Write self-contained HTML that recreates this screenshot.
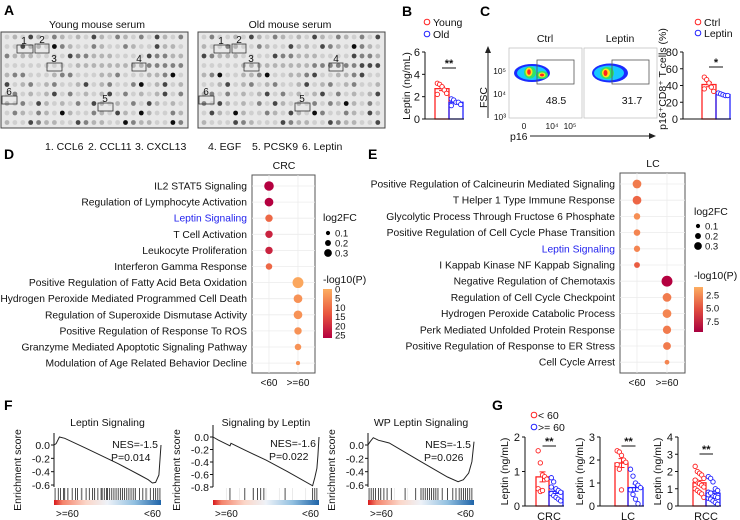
<!DOCTYPE html>
<html><head><meta charset="utf-8"><style>
html,body{margin:0;padding:0;background:#fff}
svg{display:block;font-family:"Liberation Sans",Arial,sans-serif}
.pl{font-weight:bold;font-size:14px}
.t{font-size:10.5px;fill:#111}
.s{font-size:8.4px;fill:#111}
</style></head><body>
<svg id="fig" width="740" height="520" viewBox="0 0 740 520">
<defs>
<linearGradient id="gD" x1="0" y1="0" x2="0" y2="1"><stop offset="0" stop-color="#fdae61"/><stop offset="0.5" stop-color="#e9573f"/><stop offset="1" stop-color="#b4003f"/></linearGradient>
<linearGradient id="gE" x1="0" y1="0" x2="0" y2="1"><stop offset="0" stop-color="#fdae61"/><stop offset="0.5" stop-color="#e04c3f"/><stop offset="1" stop-color="#a8003f"/></linearGradient>
<linearGradient id="gBand" x1="0" y1="0" x2="1" y2="0"><stop offset="0" stop-color="#d7191c"/><stop offset="0.08" stop-color="#f4826a"/><stop offset="0.3" stop-color="#fbd6c8"/><stop offset="0.5" stop-color="#eef2f8"/><stop offset="0.75" stop-color="#92c0e0"/><stop offset="1" stop-color="#1f64a8"/></linearGradient>
</defs>
<g id="panelA">
<text class="pl" x="4" y="15">A</text>
<text class="t" x="97" y="28" text-anchor="middle">Young mouse serum</text>
<text class="t" x="290" y="28" text-anchor="middle">Old mouse serum</text>
<rect x="1" y="32" width="187" height="96" fill="#e8e8e8" stroke="#444"/>
<rect x="198" y="32" width="187" height="96" fill="#e8e8e8" stroke="#444"/>
<g id="blotDots"></g>
<g>
<text class="t" x="45" y="150">1. CCL6</text>
<text class="t" x="88" y="150">2. CCL11</text>
<text class="t" x="135" y="150">3. CXCL13</text>
<text class="t" x="208" y="150">4. EGF</text>
<text class="t" x="252" y="150">5. PCSK9</text>
<text class="t" x="302" y="150">6. Leptin</text>
</g>
</g>
<g id="panelB">
<text class="pl" x="402" y="16">B</text>
<circle cx="427" cy="22" r="2.8" fill="none" stroke="#f22" stroke-width="1"/>
<text class="t" x="433" y="26">Young</text>
<circle cx="427" cy="34" r="2.8" fill="none" stroke="#22f" stroke-width="1"/>
<text class="t" x="433" y="38">Old</text>
<text class="t" transform="translate(410,86) rotate(-90)" text-anchor="middle">Leptin (ng/mL)</text>
</g>
<g id="panelC">
<text class="pl" x="480" y="16">C</text>
<text class="t" x="545" y="42" text-anchor="middle">Ctrl</text>
<text class="t" x="620" y="42" text-anchor="middle">Leptin</text>
<rect x="509" y="48" width="73" height="70" fill="#fff" stroke="#bbb" stroke-width="0.7"/>
<rect x="584" y="48" width="73" height="70" fill="#fff" stroke="#bbb" stroke-width="0.7"/>
<g>
<ellipse cx="532" cy="73" rx="18" ry="9" fill="#1a2cff"/><ellipse cx="532" cy="73" rx="15" ry="7" fill="#18c8ff"/>
<ellipse cx="530" cy="72.5" rx="6" ry="6" fill="#2ee26a"/><ellipse cx="542" cy="75" rx="6" ry="4" fill="#2ee26a"/>
<ellipse cx="529" cy="72" rx="3.5" ry="4.5" fill="#ffe21a"/><ellipse cx="542" cy="75" rx="3.5" ry="2.5" fill="#ffe21a"/>
<ellipse cx="529" cy="72" rx="1.8" ry="2.8" fill="#f22"/><ellipse cx="542" cy="75" rx="2" ry="1.4" fill="#f22"/>
</g>
<g>
<ellipse cx="610" cy="73" rx="18" ry="9.5" fill="#1a2cff"/><ellipse cx="609" cy="73" rx="15" ry="7.5" fill="#18c8ff"/>
<ellipse cx="607" cy="73" rx="7" ry="6" fill="#2ee26a"/><ellipse cx="606" cy="73" rx="4" ry="4.5" fill="#ffe21a"/>
<ellipse cx="605.5" cy="73" rx="2" ry="3" fill="#f22"/>
</g>
<rect x="537" y="60" width="37" height="24" fill="none" stroke="#555" stroke-width="0.8"/>
<rect x="612" y="60" width="37" height="24" fill="none" stroke="#555" stroke-width="0.8"/>
<text class="t" x="556" y="104" text-anchor="middle">48.5</text>
<text class="t" x="632" y="104" text-anchor="middle">31.7</text>
<line x1="488" y1="118" x2="488" y2="52" stroke="#222" stroke-width="1"/>
<polygon points="488,46 485,53 491,53" fill="#222"/>
<text class="t" transform="translate(487,108) rotate(-90)">FSC</text>
<text class="s" x="506" y="74" text-anchor="end" font-size="7">10⁵</text>
<text class="s" x="506" y="97" text-anchor="end" font-size="7">10⁴</text>
<text class="s" x="506" y="120" text-anchor="end" font-size="7">10³</text>
<text class="s" x="524" y="129" text-anchor="middle" font-size="7">0</text>
<text class="s" x="552" y="129" text-anchor="middle" font-size="7">10⁴</text>
<text class="s" x="570" y="129" text-anchor="middle" font-size="7">10⁵</text>
<text class="t" x="510" y="140">p16</text>
<line x1="530" y1="136" x2="650" y2="136" stroke="#222" stroke-width="1"/>
<polygon points="656,136 649,133 649,139" fill="#222"/>
<circle cx="698" cy="22" r="2.8" fill="none" stroke="#f22"/>
<text class="t" x="704" y="26">Ctrl</text>
<circle cx="698" cy="33" r="2.8" fill="none" stroke="#22f"/>
<text class="t" x="704" y="37">Leptin</text>
<text class="t" transform="translate(666,79) rotate(-90)" text-anchor="middle">p16⁺CD8⁺ T cells (%)</text>
</g>
<g id="panelD">
<text class="pl" x="4" y="159">D</text>
<text class="t" x="284" y="169" text-anchor="middle">CRC</text>
<text class="t" x="323" y="221">log2FC</text>
<text class="t" x="323" y="283">-log10(P)</text>
<rect x="323" y="289" width="9" height="49" fill="url(#gD)"/>
</g>
<g id="panelE">
<text class="pl" x="368" y="159">E</text>
<text class="t" x="653" y="167" text-anchor="middle">LC</text>
<text class="t" x="694" y="215">log2FC</text>
<text class="t" x="694" y="279">-log10(P)</text>
<rect x="694" y="287" width="9" height="45" fill="url(#gE)"/>
</g>
<g id="panelF">
<text class="pl" x="4" y="410">F</text>
</g>
<g id="panelG">
<text class="pl" x="492" y="410">G</text>
<circle cx="534" cy="415" r="2.8" fill="none" stroke="#f22"/>
<text class="t" x="538" y="419">&lt; 60</text>
<circle cx="534" cy="427" r="2.8" fill="none" stroke="#22f"/>
<text class="t" x="538" y="431">&gt;= 60</text>
</g>
</svg>
<script>
// ---------- data ----------
const bYoung = [3.2, 3.1, 2.9, 2.6, 2.3, 2.2];
const bOld = [1.8, 1.7, 1.5, 1.5, 1.3, 1.2];
const bTicks = [0, 2, 4, 6];
const cCtrl = [50, 47, 43, 38, 33, 36];
const cLeptin = [31, 30, 29, 28, 28];
const cTicks = [0, 20, 40, 60, 80];

const dTerms = ["IL2 STAT5 Signaling","Regulation of Lymphocyte Activation","Leptin Signaling","T Cell Activation","Leukocyte Proliferation","Interferon Gamma Response","Positive Regulation of Fatty Acid Beta Oxidation","Hydrogen Peroxide Mediated Programmed Cell Death","Regulation of Superoxide Dismutase Activity","Positive Regulation of Response To ROS","Granzyme Mediated Apoptotic Signaling Pathway","Modulation of Age Related Behavior Decline"];
const dGroup = [0,0,0,0,0,0,1,1,1,1,1,1];
const dFC = [0.30,0.26,0.20,0.20,0.20,0.16,0.36,0.26,0.26,0.20,0.16,0.05];
const dP = [25,25,10,20,20,10,1,4,4,4,4,4];
const dColorTicks = [0,5,10,15,20,25];

const eTerms = ["Positive Regulation of Calcineurin Mediated Signaling","T Helper 1 Type Immune Response","Glycolytic Process Through Fructose 6 Phosphate","Positive Regulation of Cell Cycle Phase Transition","Leptin Signaling","I Kappab Kinase NF Kappab Signaling","Negative Regulation of Chemotaxis","Regulation of Cell Cycle Checkpoint","Hydrogen Peroxide Catabolic Process","Perk Mediated Unfolded Protein Response","Positive Regulation of Response to ER Stress","Cell Cycle Arrest"];
const eGroup = [0,0,0,0,0,0,1,1,1,1,1,1];
const eFC = [0.26,0.26,0.16,0.16,0.15,0.13,0.36,0.26,0.26,0.24,0.22,0.08];
const eP = [3.5,4.5,2.5,3,3,5,9.5,3.5,3,3.5,3.5,3];
const eColorTicks = [2.5,5.0,7.5];
const sizeLegend = [0.1,0.2,0.3];
const groupLabels = ["<60",">=60"];

const f1Pos = [0,0.02,0.05,0.1,0.3,0.6,0.8,0.88,0.92,0.95,0.98,1.0];
const f1ES  = [0,0.02,0.12,0.1,-0.05,-0.28,-0.45,-0.52,-0.57,-0.56,-0.45,0];
const f1Hits = [0.01,0.04,0.06,0.09,0.1,0.13,0.17,0.2,0.22,0.26,0.3,0.33,0.36,0.38,0.41,0.44,0.45,0.47,0.49,0.5,0.52,0.54,0.56,0.58,0.6,0.62,0.64,0.66,0.68,0.7,0.72,0.74,0.76,0.8,0.83,0.86,0.9,0.93,0.95,0.97,0.99];
const f2Pos = [0,0.05,0.16,0.17,0.3,0.5,0.7,0.94,0.96,0.98,0.99,1.0];
const f2ES  = [0,-0.05,-0.14,-0.1,-0.21,-0.37,-0.55,-0.78,-0.65,-0.5,-0.3,0];
const f2Hits = [0.16,0.3,0.38,0.42,0.45,0.48,0.68,0.94,0.96,0.98];
const f3Pos = [0,0.02,0.05,0.1,0.2,0.5,0.75,0.85,0.9,0.95,0.98,1.0];
const f3ES  = [0,0.05,0.11,0.07,0.03,-0.25,-0.48,-0.55,-0.52,-0.42,-0.25,0.05];
const f3Hits = [0.01,0.03,0.05,0.07,0.1,0.12,0.15,0.18,0.22,0.35,0.45,0.5,0.52,0.54,0.56,0.58,0.6,0.62,0.64,0.66,0.7,0.75,0.8,0.83,0.86,0.88,0.9,0.92,0.94,0.96,0.98];
const f1Ticks = [0.0,-0.2,-0.4,-0.6];
const f2Ticks = [0.0,-0.2,-0.4,-0.6,-0.8];

const gCrcY = [1.6,1.25,0.9,0.85,0.78,0.5,0.42,0.45];
const gCrcO = [0.82,0.7,0.5,0.45,0.4,0.36,0.3,0.25,0.2,0.15,0.55];
const gLcY = [2.4,2.35,2.2,2.0,1.9,1.8,1.6,0.7];
const gLcO = [1.6,1.3,1.0,0.9,0.8,0.7,0.5,0.3,0.1];
const gRccY = [2.3,2.0,1.9,1.8,1.6,1.5,1.4,1.3,1.2,1.1,1.0,0.9,0.8,0.7,0.5,1.5];
const gRccO = [1.7,1.6,1.4,1.0,0.9,0.8,0.7,0.6,0.55,0.5,0.45,0.4,0.3,0.2,0.1,0.65,0.75];

// ---------- helpers ----------
const NS = "http://www.w3.org/2000/svg";
const svg = document.getElementById('fig');
function mk(tag, attrs, parent) {
  const e = document.createElementNS(NS, tag);
  for (const k in attrs) e.setAttribute(k, attrs[k]);
  (parent || svg).appendChild(e);
  return e;
}
const mean = a => a.reduce((s, v) => s + v, 0) / a.length;
const sem = a => { const m = mean(a); return Math.sqrt(a.reduce((s, v) => s + (v - m) * (v - m), 0) / (a.length - 1)) / Math.sqrt(a.length); };

// ---------- blots (decorative image) ----------
(function () {
  const g = document.getElementById('blotDots');
  [[1, 0], [198, 1]].forEach(([x0, k]) => {
    for (let r = 0; r < 10; r++) for (let c = 0; c < 23; c++) {
      const h = ((r * 37 + c * 61 + (c * r) * 13 + k * 11) % 97) / 97;
      let s = h < 0.4 ? 0.88 : h < 0.68 ? 0.76 : h < 0.86 ? 0.55 : h < 0.95 ? 0.3 : 0.05;
      const v = Math.round(s * 235);
      const d = mk('circle', {cx: x0 + 6 + c * 7.9, cy: 37 + r * 9.5, r: 2.4, fill: `rgb(${v},${v},${v})`}, g);
      
      
    }
  });
  const boxes = [[17, 45, 16, 8, "1"], [35, 44, 14, 9, "2"], [47, 63, 15, 8, "3"], [132, 63, 14, 8, "4"], [98, 103, 15, 8, "5"], [2, 96, 15, 8, "6"]];
  [0, 197].forEach(dx => boxes.forEach(b => {
    const bx = mk('rect', {x: b[0] + dx, y: b[1], width: b[2], height: b[3], fill: 'none', stroke: '#333', 'stroke-width': 0.8});
    
    
    const t = mk('text', {x: b[0] + dx + 7, y: b[1] - 1, 'text-anchor': 'middle', 'font-size': 10, fill: '#111'});
    t.textContent = b[4];
    
    
  }));
})();

// ---------- bar chart ----------
function barChart(o) {
  const y = v => o.yBot - (v / o.max) * (o.yBot - o.yTop);
  const ax = mk('line', {x1: o.ax, y1: o.yTop, x2: o.ax, y2: o.yBot, stroke: '#111', 'stroke-width': 1});
  
  
  o.ticks.forEach(t => {
    const tl = mk('line', {x1: o.ax - 3, y1: y(t), x2: o.ax, y2: y(t), stroke: '#111'});
    
    
    const tt = mk('text', {x: o.ax - 5, y: y(t) + 4, 'text-anchor': 'end', 'font-size': 11, fill: '#111'});
    tt.textContent = t;
    
    
  });
  o.groups.forEach((gr, i) => {
    const m = mean(gr.pts), se = sem(gr.pts);
    const b = mk('rect', {x: gr.x0, y: y(m), width: gr.x1 - gr.x0, height: o.yBot - y(m), fill: 'none', stroke: gr.color, 'stroke-width': 1.3});
    
    
    const cx = (gr.x0 + gr.x1) / 2;
    const e = mk('path', {d: `M${cx},${y(m + se)}V${y(m - se)}M${cx - 3},${y(m + se)}H${cx + 3}M${cx - 3},${y(m - se)}H${cx + 3}`, stroke: gr.color, 'stroke-width': 1, fill: 'none'});
    
    
    gr.pts.forEach((p, j) => {
      const off = ((j % 5) - 2) * ((gr.x1 - gr.x0) / 6);
      const c = mk('circle', {cx: cx + off, cy: y(p), r: 2.2, fill: '#fff', stroke: gr.color, 'stroke-width': 0.9});
      
      
    });
  });
  const bl = mk('line', {x1: o.ax, y1: o.yBot, x2: o.groups[o.groups.length - 1].x1 + 1, y2: o.yBot, stroke: '#111'});
  
  
  const sx0 = (o.groups[0].x0 + o.groups[0].x1) / 2, sx1 = (o.groups[1].x0 + o.groups[1].x1) / 2;
  const sl = mk('line', {x1: sx0, y1: o.sigY, x2: sx1, y2: o.sigY, stroke: '#111'});
  
  
  const st = mk('text', {x: (sx0 + sx1) / 2, y: o.sigY - 1, 'text-anchor': 'middle', 'font-size': 11, 'font-weight': 'bold', fill: '#111'});
  st.textContent = o.sig;
  
  
  if (o.xlabel) {
    const xl = mk('text', {x: o.groups[0].x1, y: o.yBot + 14, 'text-anchor': 'middle', 'font-size': 11, fill: '#111'});
    xl.textContent = o.xlabel;
    
    
  }
  if (o.ylabel) {
    const yl = mk('text', {transform: `translate(${o.ax - 17},${(o.yTop + o.yBot) / 2}) rotate(-90)`, 'text-anchor': 'middle', 'font-size': 10.5, fill: '#111'});
    yl.textContent = o.ylabel;
    
    
  }
}
barChart({name: 'b', ax: 425, yTop: 52, yBot: 119, max: 6, ticks: bTicks, sig: '**', sigY: 68,
  groups: [{x0: 435, x1: 449, color: '#f22', pts: bYoung}, {x0: 449, x1: 463, color: '#22f', pts: bOld}]});
barChart({name: 'c', ax: 683, yTop: 52, yBot: 119, max: 80, ticks: cTicks, sig: '*', sigY: 67,
  groups: [{x0: 702, x1: 716, color: '#f22', pts: cCtrl}, {x0: 716, x1: 730, color: '#22f', pts: cLeptin}]});
barChart({name: 'g-crc', ax: 525, yTop: 437, yBot: 506, max: 2, ticks: [0, 1, 2], sig: '**', sigY: 446, xlabel: 'CRC', ylabel: 'Leptin (ng/mL)',
  groups: [{x0: 536, x1: 549, color: '#f22', pts: gCrcY}, {x0: 549, x1: 563, color: '#22f', pts: gCrcO}]});
barChart({name: 'g-lc', ax: 600, yTop: 437, yBot: 506, max: 3, ticks: [0, 1, 2, 3], sig: '**', sigY: 446, xlabel: 'LC', ylabel: 'Leptin (ng/mL)',
  groups: [{x0: 615, x1: 628, color: '#f22', pts: gLcY}, {x0: 628, x1: 643, color: '#22f', pts: gLcO}]});
barChart({name: 'g-rcc', ax: 678, yTop: 437, yBot: 506, max: 4, ticks: [0, 1, 2, 3, 4], sig: '**', sigY: 454, xlabel: 'RCC', ylabel: 'Leptin (ng/mL)',
  groups: [{x0: 693, x1: 706, color: '#f22', pts: gRccY}, {x0: 706, x1: 720, color: '#22f', pts: gRccO}]});

// ---------- dot plots ----------
const rOf = fc => 1.5 + fc * 11;
function colorOf(p, pmin, pmax) {
  const t = Math.max(0, Math.min(1, (p - pmin) / (pmax - pmin)));
  const stops = [[253, 174, 97], [233, 87, 63], [180, 0, 63]];
  const s = t < 0.5 ? 0 : 1, u = t < 0.5 ? t * 2 : (t - 0.5) * 2;
  const c = stops[s].map((v, i) => Math.round(v + (stops[s + 1][i] - v) * u));
  return `rgb(${c.join(',')})`;
}
function dotPlot(o) {
  const rowY = i => o.y0 + i * o.dy;
  const colX = g => o.cx[g];
  const box = mk('rect', {x: o.bx0, y: o.by0, width: o.bx1 - o.bx0, height: o.by1 - o.by0, fill: '#fff', stroke: '#555', 'stroke-width': 1});
  
  
  o.terms.forEach((t, i) => {
    const gl = mk('line', {x1: o.bx0, y1: rowY(i), x2: o.bx1, y2: rowY(i), stroke: '#ececec', 'stroke-width': 0.8});
    
    
  });
  [0, 1].forEach(g => {
    const vl = mk('line', {x1: colX(g), y1: o.by0, x2: colX(g), y2: o.by1, stroke: '#ececec', 'stroke-width': 0.8});
    
    
    const xl = mk('text', {x: colX(g), y: o.by1 + 13, 'text-anchor': 'middle', 'font-size': 10, fill: '#111'});
    xl.textContent = groupLabels[g];
    
    
  });
  o.terms.forEach((t, i) => {
    const tx = mk('text', {x: o.bx0 - 5, y: rowY(i) + 3.5, 'text-anchor': 'end', 'font-size': 10.3, fill: t === 'Leptin Signaling' ? '#2222ee' : '#111'});
    tx.textContent = t;
    
    
    const c = mk('circle', {cx: colX(o.group[i]), cy: rowY(i), r: rOf(o.fc[i]), fill: colorOf(o.p[i], o.pmin, o.pmax)});
    
    
  });
  sizeLegend.forEach((s, k) => {
    const c = mk('circle', {cx: o.lx + 4, cy: o.ly + k * 10, r: rOf(s) * 0.8, fill: '#000'});
    
    
    const t = mk('text', {x: o.lx + 11, y: o.ly + k * 10 + 3.5, 'font-size': 9.5, fill: '#111'});
    t.textContent = s;
    
    
  });
  o.cticks.forEach(v => {
    const t = mk('text', {x: o.cbx + 12, y: o.cby0 + (v - o.pmin) / (o.pmax - o.pmin) * (o.cby1 - o.cby0) + 3.5, 'font-size': 9.5, fill: '#111'});
    t.textContent = v.toFixed(o.dec);
    
    
  });
}
dotPlot({name: 'd', terms: dTerms, group: dGroup, fc: dFC, p: dP, pmin: 0, pmax: 25, cticks: dColorTicks, dec: 0,
  y0: 186, dy: 16.1, cx: [269, 298], bx0: 252, bx1: 315, by0: 175, by1: 373, lx: 324, ly: 233, cbx: 323, cby0: 289, cby1: 335});
dotPlot({name: 'e', terms: eTerms, group: eGroup, fc: eFC, p: eP, pmin: 1, pmax: 9.5, cticks: eColorTicks, dec: 1,
  y0: 184, dy: 16.2, cx: [637, 667], bx0: 620, bx1: 685, by0: 173, by1: 373, lx: 694, ly: 226, cbx: 694, cby0: 287, cby1: 332});

// ---------- GSEA ----------
function gsea(o) {
  const x = f => o.x0 + f * o.w;
  const y = v => o.yZero - v * o.k;
  const t = mk('text', {x: o.x0 + o.w / 2, y: 426, 'text-anchor': 'middle', 'font-size': 10.5, fill: '#111'});
  t.textContent = o.title;
  
  
  const top = y(o.ticks[0]) - 12;
  const ax = mk('line', {x1: o.x0, y1: top, x2: o.x0, y2: 487, stroke: '#111'});
  
  
  o.ticks.forEach(v => {
    const tl = mk('line', {x1: o.x0 - 3, y1: y(v), x2: o.x0, y2: y(v), stroke: '#111'});
    
    
    const tt = mk('text', {x: o.x0 - 4, y: y(v) + 4, 'text-anchor': 'end', 'font-size': 10.5, fill: '#111'});
    tt.textContent = v.toFixed(1);
    
    
  });
  const yl = mk('text', {transform: `translate(${o.x0 - 33},470) rotate(-90)`, 'text-anchor': 'middle', 'font-size': 10.5, fill: '#111'});
  yl.textContent = 'Enrichment score';
  
  
  const band = mk('rect', {x: o.x0, y: 500, width: o.w, height: 5, fill: 'url(#gBand)'});
  
  
  for (let k = 1; k < 8; k++) {
    const vg = mk('line', {x1: x(k / 8), y1: 488, x2: x(k / 8), y2: 500, stroke: '#ddd', 'stroke-width': 0.6});
    
    
  }
  o.hits.forEach(h => {
    const l = mk('line', {x1: x(h), y1: 488, x2: x(h), y2: 500, stroke: '#222', 'stroke-width': 0.8});
    
    
  });
  const d = o.pos.map((p, i) => (i ? 'L' : 'M') + x(p).toFixed(1) + ',' + y(o.es[i]).toFixed(1)).join('');
  const c = mk('path', {d: d, fill: 'none', stroke: '#222', 'stroke-width': 1});
  
  
  const n1 = mk('text', {x: o.x0 + o.w - 3, y: o.nesY, 'text-anchor': 'end', 'font-size': 10.5, fill: '#111'});
  n1.textContent = o.nes;
  
  
  const n2 = mk('text', {x: o.x0 + o.w - 50, y: o.nesY + 13, 'font-size': 10.5, fill: '#111'});
  n2.textContent = o.pv;
  
  
  const l1 = mk('text', {x: o.x0 + 2, y: 517, 'font-size': 10, fill: '#111'});
  l1.textContent = '>=60';
  
  
  const l2 = mk('text', {x: o.x0 + o.w, y: 517, 'text-anchor': 'end', 'font-size': 10, fill: '#111'});
  l2.textContent = '<60';
  
  
}
gsea({name: 'f1', title: 'Leptin Signaling', x0: 54, w: 107, yZero: 445, k: 66.7, ticks: f1Ticks, pos: f1Pos, es: f1ES, hits: f1Hits, nes: 'NES=-1.5', pv: 'P=0.014', nesY: 448});
gsea({name: 'f2', title: 'Signaling by Leptin', x0: 213, w: 106, yZero: 437, k: 62.5, ticks: f2Ticks, pos: f2Pos, es: f2ES, hits: f2Hits, nes: 'NES=-1.6', pv: 'P=0.022', nesY: 447});
gsea({name: 'f3', title: 'WP Leptin Signaling', x0: 368, w: 106, yZero: 445, k: 66.7, ticks: f1Ticks, pos: f3Pos, es: f3ES, hits: f3Hits, nes: 'NES=-1.5', pv: 'P=0.026', nesY: 448});
</script>
</body></html>
